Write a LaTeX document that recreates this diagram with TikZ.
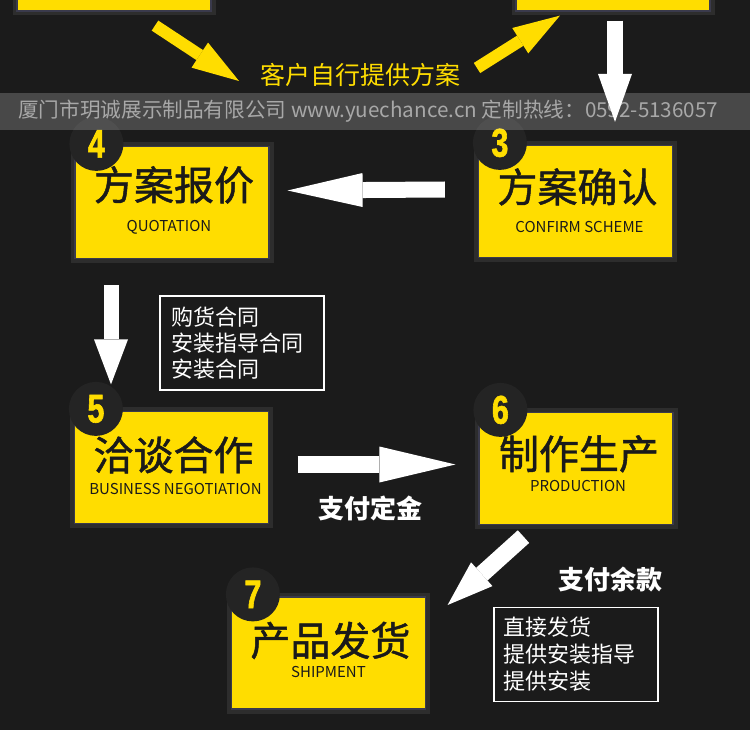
\documentclass[tikz,border=0pt]{standalone}
\usepackage{fontspec}
\setmainfont{Noto Sans CJK SC}
\newfontfamily\titlefont[FakeBold=1.2]{Noto Sans CJK SC}
\newfontfamily\numfont[FakeStretch=0.76, FakeBold=1.5]{Liberation Sans}
\usetikzlibrary{arrows.meta}
\definecolor{bg}{HTML}{1B1B1B}
\definecolor{ybox}{HTML}{FFDD00}
\definecolor{framec}{HTML}{2D2D2D}
\definecolor{edgec}{HTML}{3A3A4C}
\definecolor{discc}{HTML}{242424}
\definecolor{bandtxt}{HTML}{A8A8A8}
\definecolor{ink}{HTML}{1A1A1A}
\tikzset{
  stepbox/.style={rectangle, minimum width=194pt, minimum height=112pt, inner sep=0pt,
    fill=ybox, draw=edgec, line width=1.2pt, preaction={draw=framec, line width=9pt}},
  numdisc/.style={circle, minimum size=54pt, inner sep=0pt, fill=discc},
  numtxt/.style={text=ybox, inner sep=0pt, font=\numfont\bfseries\fontsize{40pt}{40pt}\selectfont},
  titletxt/.style={text=ink, inner sep=0pt, font=\titlefont\fontsize{40pt}{40pt}\selectfont},
  subtxt/.style={text=ink, inner sep=0pt, font=\fontsize{15pt}{15pt}\selectfont},
  fat/.style n args={4}{draw=#1, line width=#2, -{Triangle[length=#3, width=#4, line width=0pt]}},
  notebox/.style={draw=white, line width=1.3pt, text=white, align=left, minimum height=94pt,
    font=\fontsize{22pt}{26pt}\selectfont},
  paytxt/.style={text=white, inner sep=0pt, font=\bfseries\fontsize{26pt}{26pt}\selectfont},
}
\begin{document}
\begin{tikzpicture}[x=1pt, y=-1pt]
\clip (0,0) rectangle (750,730);
\fill[bg] (0,0) rectangle (750,730);

% top boxes (partly visible)
\node[stepbox] (tL) at (114,-45) {};
\node[stepbox] (tR) at (613,-45) {};

% label and yellow arrows
\node[text=ybox, inner sep=0pt, font=\fontsize{25pt}{25pt}\selectfont] (lab) at (360,75) {客户自行提供方案};
\draw[fat={ybox}{12pt}{47pt}{30pt}] ([shift={(41,14)}]tL.south) -- ([shift={(-121,6)}]lab.center);
\draw[fat={ybox}{12pt}{47pt}{30pt}] ([shift={(117,-7)}]lab.center) -- ([shift={(-53,4)}]tR.south);

% step boxes
\node[stepbox] (b4) at (172,202.5) {};
\node[stepbox] (b3) at (575.5,201.5) {};
\node[stepbox] (b5) at (171.5,467.5) {};
\node[stepbox] (b6) at (576,468.5) {};
\node[stepbox] (b7) at (328.5,653) {};

\foreach \b/\n in {b4/4, b3/3, b5/5, b6/6, b7/7}{
  \node[numdisc] (c\b) at ([shift={(22,-2)}]\b.north west) {};
  \node[numtxt] (n\b) at (c\b.center) {\n};
}

\node[titletxt] (t4) at ([shift={(2,39)}]b4.north) {方案报价};
\node[subtxt]   (s4) at ([shift={(-3,81)}]b4.north) {QUOTATION};
\node[titletxt] (t3) at ([shift={(2,42)}]b3.north) {方案确认};
\node[subtxt]   (s3) at ([shift={(4,82)}]b3.north) {CONFIRM SCHEME};
\node[titletxt] (t5) at ([shift={(2,44)}]b5.north) {洽谈合作};
\node[subtxt]   (s5) at ([shift={(4,78)}]b5.north) {BUSINESS NEGOTIATION};
\node[titletxt] (t6) at ([shift={(3,42)}]b6.north) {制作生产};
\node[subtxt]   (s6) at ([shift={(2,74)}]b6.north) {PRODUCTION};
\node[titletxt] (t7) at ([shift={(2,44)}]b7.north) {产品发货};
\node[subtxt]   (s7) at ([shift={(0,76)}]b7.north) {SHIPMENT};

% note boxes
\node[notebox, inner xsep=11pt, text width=142pt] (nb1) at (242,343) {购货合同\\安装指导合同\\安装合同};
\node[notebox, inner xsep=9pt, text width=146pt, font=\fontsize{22pt}{27pt}\selectfont] (nb2) at (576,654.5) {直接发货\\提供安装指导\\提供安装};

% payment labels
\node[paytxt] (p1) at (370,508) {支付定金};
\node[paytxt] (p2) at (610,580) {支付余款};

% white arrows
\draw[fat={white}{16pt}{75pt}{34pt}] ([shift={(-33,-12)}]b3.west) -- ([shift={(18,-12)}]b4.east);
\draw[fat={white}{15pt}{45pt}{34pt}] ([shift={(-61,26)}]b4.south) -- ([shift={(-60.5,-26.5)}]b5.north);
\draw[fat={white}{17pt}{76pt}{36pt}] ([shift={(28.5,-3)}]b5.east) -- ([shift={(-23,-4)}]b6.west);
\draw[fat={white}{17pt}{46pt}{32pt}] ([shift={(-52.5,11.5)}]b6.south) -- ([shift={(21.5,-48)}]b7.east);

% grey band
\fill[white, opacity=0.2] (0,93) rectangle (750,130);
\node[anchor=west, inner sep=0pt, text=bandtxt, font=\fontsize{21pt}{21pt}\selectfont] (band) at (18,111)
  {\resizebox{700pt}{!}{厦门市玥诚展示制品有限公司 www.yuechance.cn 定制热线：0592-5136057}};

\draw[fat={white}{16pt}{48pt}{34pt}] ([shift={(2,9)}]tR.south) -- ([shift={(39.5,-23)}]b3.north);
\end{tikzpicture}
\end{document}
